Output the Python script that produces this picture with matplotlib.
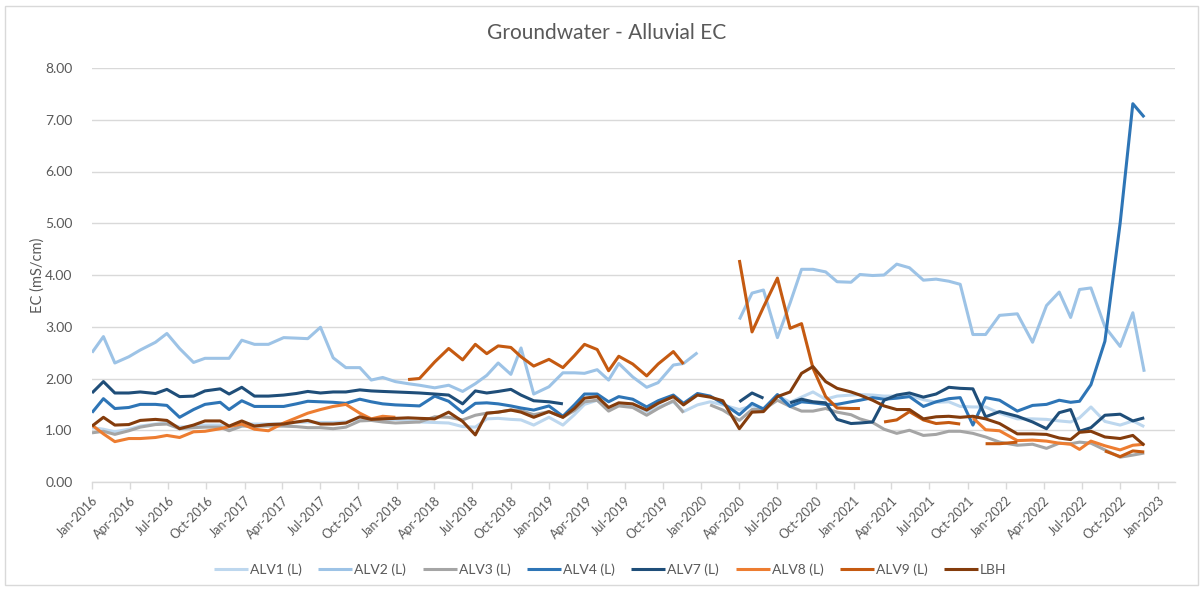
import numpy as np
import pandas as pd
import matplotlib
matplotlib.use("Agg")
import matplotlib.pyplot as plt
import matplotlib.dates as mdates
from matplotlib.patches import Rectangle

plt.rcParams['font.family'] = ['Lato', 'DejaVu Sans']
nan = np.nan

# sampling times, in months since Jan-2016
sample_month = [0.0, 0.9, 1.8, 2.9, 3.8, 5.0, 5.9, 6.9, 8.0, 8.9,
                10.1, 10.8, 11.8, 12.8, 13.9, 15.1, 16.1, 17.0, 18.0, 19.0,
                20.0, 21.1, 22.0, 22.9, 23.9, 24.9, 25.8, 27.0, 28.1, 29.2,
                30.2, 31.1, 32.0, 33.0, 33.8, 34.8, 36.0, 37.1, 38.0, 38.8,
                39.8, 40.7, 41.5, 42.6, 43.7, 44.6, 45.8, 46.6, 47.7, 48.7,
                49.7, 51.0, 52.0, 52.9, 54.0, 55.0, 55.9, 56.8, 57.8, 58.7,
                59.8, 60.5, 61.5, 62.4, 63.4, 64.4, 65.5, 66.5, 67.5, 68.4,
                69.4, 70.4, 71.5, 72.9, 74.1, 75.2, 76.2, 77.1, 77.8, 78.7,
                79.8, 81.0, 82.0, 82.9]

alv1 = [1.05, 1.02, 0.97, 1.02, 1.08, 1.12, 1.14, 1.06, 1.08, 1.10,
        1.10, 1.04, 1.12, 1.12, 1.12, 1.13, 1.15, 1.16, 1.15, 1.15,
        1.16, 1.22, 1.22, 1.20, 1.21, 1.19, 1.16, 1.15, 1.14, 1.07,
        1.06, 1.22, 1.23, 1.21, 1.20, 1.10, 1.25, 1.10, 1.30, 1.50,
        1.58, 1.42, 1.50, 1.48, 1.36, 1.45, 1.55, 1.36, 1.49, 1.55,
        1.49, 1.40, 1.47, 1.42, 1.67, 1.54, 1.64, 1.74, 1.60, 1.66,
        1.68, 1.69, 1.68, 1.66, 1.66, 1.68, 1.59, 1.54, 1.55, 1.46,
        1.45, 1.45, 1.33, 1.22, 1.22, 1.21, 1.18, 1.16, 1.24, 1.45,
        1.17, 1.10, 1.18, 1.07]

alv2 = [2.50, 2.81, 2.30, 2.42, 2.55, 2.70, 2.87, 2.58, 2.31, 2.39,
        2.39, 2.39, 2.74, 2.66, 2.66, 2.79, 2.78, 2.77, 2.99, 2.40,
        2.21, 2.21, 1.97, 2.02, 1.94, 1.90, 1.87, 1.82, 1.87, 1.75,
        1.90, 2.06, 2.30, 2.08, 2.59, 1.70, 1.84, 2.11, 2.11, 2.10,
        2.17, 1.97, 2.29, 2.03, 1.83, 1.92, 2.26, 2.29, 2.50, nan,
        nan, 3.14, 3.65, 3.71, 2.79, 3.46, 4.11, 4.11, 4.06, 3.87,
        3.86, 4.01, 3.99, 4.00, 4.21, 4.14, 3.90, 3.92, 3.88, 3.82,
        2.85, 2.85, 3.22, 3.25, 2.70, 3.41, 3.67, 3.18, 3.72, 3.75,
        3.00, 2.62, 3.27, 2.13]

alv3 = [0.95, 0.98, 0.92, 0.99, 1.06, 1.11, 1.12, 1.03, 1.05, 1.06,
        1.06, 0.99, 1.08, 1.08, 1.08, 1.08, 1.07, 1.05, 1.05, 1.03,
        1.06, 1.18, 1.19, 1.16, 1.14, 1.15, 1.16, 1.26, 1.25, 1.20,
        1.29, 1.33, 1.35, 1.39, 1.38, 1.30, 1.36, 1.25, 1.38, 1.55,
        1.58, 1.37, 1.47, 1.44, 1.29, 1.42, 1.57, 1.34, nan, 1.49,
        1.39, 1.19, 1.40, 1.40, 1.58, 1.46, 1.37, 1.37, 1.42, 1.35,
        1.30, 1.22, 1.15, 1.02, 0.94, 1.00, 0.90, 0.92, 0.98, 0.98,
        0.94, 0.87, 0.77, 0.71, 0.73, 0.65, 0.75, 0.74, 0.77, 0.75,
        0.62, 0.48, 0.52, 0.56]

alv4 = [1.34, 1.61, 1.42, 1.44, 1.50, 1.50, 1.48, 1.25, 1.40, 1.50,
        1.54, 1.40, 1.57, 1.46, 1.46, 1.46, 1.51, 1.56, 1.55, 1.54,
        1.52, 1.60, 1.55, 1.51, 1.49, 1.48, 1.47, 1.66, 1.56, 1.34,
        1.52, 1.53, 1.51, 1.47, 1.43, 1.39, 1.47, 1.27, 1.49, 1.70,
        1.70, 1.55, 1.65, 1.60, 1.45, 1.57, 1.68, 1.52, 1.71, 1.66,
        1.52, 1.30, 1.52, 1.41, 1.69, 1.46, 1.55, 1.53, 1.50, 1.50,
        1.55, 1.58, 1.63, 1.60, 1.62, 1.65, 1.46, 1.55, 1.61, 1.63,
        1.10, 1.63, 1.58, 1.37, 1.48, 1.50, 1.58, 1.54, 1.56, 1.88,
        2.72, 5.00, 7.31, 7.05]

alv7 = [1.72, 1.94, 1.72, 1.72, 1.74, 1.71, 1.79, 1.65, 1.66, 1.76,
        1.80, 1.70, 1.83, 1.66, 1.66, 1.68, 1.71, 1.75, 1.72, 1.74,
        1.74, 1.78, 1.76, 1.75, 1.74, 1.73, 1.72, 1.70, 1.68, 1.51,
        1.76, 1.72, 1.75, 1.79, 1.68, 1.57, 1.55, 1.51, nan, nan,
        nan, nan, nan, nan, nan, nan, nan, nan, nan, nan,
        nan, 1.55, 1.72, 1.62, nan, 1.53, 1.60, 1.55, 1.53, 1.21,
        1.13, 1.14, 1.16, 1.58, 1.68, 1.72, 1.64, 1.70, 1.83, 1.81,
        1.80, 1.26, 1.36, 1.27, 1.16, 1.03, 1.34, 1.40, 0.98, 1.05,
        1.29, 1.31, 1.18, 1.24]

alv8 = [1.10, 0.93, 0.78, 0.84, 0.84, 0.86, 0.90, 0.86, 0.97, 0.98,
        1.03, 1.07, 1.12, 1.02, 0.99, 1.14, 1.24, 1.33, 1.40, 1.46,
        1.50, 1.33, 1.22, 1.27, 1.25, nan, nan, nan, nan, nan,
        nan, nan, nan, nan, nan, nan, nan, nan, nan, nan,
        nan, nan, nan, nan, nan, nan, nan, nan, nan, nan,
        nan, nan, nan, nan, nan, nan, nan, nan, nan, nan,
        nan, nan, nan, nan, nan, nan, nan, nan, nan, nan,
        1.24, 1.01, 0.99, 0.80, 0.81, 0.79, 0.75, 0.73, 0.63, 0.79,
        0.70, 0.62, 0.71, 0.73]

alv9 = [nan, nan, nan, nan, nan, nan, nan, nan, nan, nan,
        nan, nan, nan, nan, nan, nan, nan, nan, nan, nan,
        nan, nan, nan, nan, nan, 1.98, 2.00, 2.32, 2.58, 2.36,
        2.66, 2.48, 2.63, 2.60, 2.42, 2.24, 2.37, 2.21, 2.44, 2.66,
        2.56, 2.15, 2.43, 2.28, 2.05, 2.28, 2.52, 2.28, nan, nan,
        nan, 4.29, 2.90, 3.38, 3.94, 2.97, 3.06, 2.20, 1.65, 1.43,
        1.42, 1.42, nan, 1.16, 1.20, 1.36, 1.20, 1.13, 1.15, 1.12,
        nan, 0.74, 0.74, 0.77, nan, nan, nan, nan, nan, nan,
        0.60, 0.49, 0.60, 0.58]

lbh = [1.08, 1.25, 1.10, 1.11, 1.19, 1.21, 1.19, 1.03, 1.10, 1.18,
       1.18, 1.08, 1.18, 1.08, 1.11, 1.12, 1.16, 1.19, 1.12, 1.12,
       1.14, 1.26, 1.21, 1.22, 1.23, 1.24, 1.23, 1.22, 1.35, 1.17,
       0.91, 1.33, 1.35, 1.39, 1.35, 1.25, 1.36, 1.25, 1.42, 1.62,
       1.65, 1.44, 1.53, 1.51, 1.39, 1.52, 1.65, 1.49, 1.68, 1.64,
       1.57, 1.03, 1.35, 1.36, 1.65, 1.74, 2.10, 2.23, 1.94, 1.81,
       1.74, 1.68, 1.58, 1.47, 1.40, 1.40, 1.22, 1.26, 1.27, 1.25,
       1.27, 1.22, 1.13, 0.93, 0.93, 0.92, 0.85, 0.82, 0.96, 0.98,
       0.87, 0.84, 0.90, 0.71]

series_names = ["ALV1 (L)", "ALV2 (L)", "ALV3 (L)", "ALV4 (L)",
                "ALV7 (L)", "ALV8 (L)", "ALV9 (L)", "LBH"]
series_values = [alv1, alv2, alv3, alv4, alv7, alv8, alv9, lbh]
series_colors = ["#BDD7EE", "#9DC3E6", "#A5A5A5", "#2E75B6",
                 "#1F4E79", "#ED7D31", "#C55A11", "#843C0C"]

dates = pd.Timestamp("2016-01-01") + pd.to_timedelta(
    np.array(sample_month) * 30.4375, unit="D")

W, H = 1203, 590
fig = plt.figure(figsize=(W / 100, H / 100), dpi=100)
fig.patches.append(Rectangle((5 / W, 5 / H), 1 - 10 / W, 1 - 11 / H,
                             transform=fig.transFigure, fill=False,
                             edgecolor="#D9D9D9", linewidth=1.0))

ax = fig.add_axes([92 / W, 1 - 482 / H, (1175 - 92) / W, (482 - 68) / H])
handles = []
for i, (name, vals, col) in enumerate(zip(series_names, series_values, series_colors)):
    h, = ax.plot(dates, np.array(vals, dtype=float), color=col, lw=2.2,
                 solid_joinstyle="round", solid_capstyle="butt",
                 label=name, zorder=3 + i)
    handles.append(h)

ax.set_ylim(0, 8)
ax.set_yticks(np.arange(0, 9, 1))
ax.yaxis.set_major_formatter(matplotlib.ticker.FormatStrFormatter("%.2f"))
ax.set_xlim(pd.Timestamp("2016-01-01"), pd.Timestamp("2023-02-10"))
ax.xaxis.set_major_locator(mdates.MonthLocator(bymonth=(1, 4, 7, 10)))
ax.xaxis.set_major_formatter(mdates.DateFormatter("%b-%Y"))

ax.grid(axis="y", color="#D9D9D9", linewidth=1.0, zorder=0)
ax.set_axisbelow(True)
for s in ("top", "right", "left"):
    ax.spines[s].set_visible(False)
ax.spines["bottom"].set_color("#D9D9D9")
ax.spines["bottom"].set_linewidth(1.0)
ax.tick_params(axis="y", length=0, pad=14, labelsize=10, labelcolor="#595959")
ax.tick_params(axis="x", length=5, width=1.0, color="#D9D9D9", pad=4,
               labelsize=9, labelcolor="#595959")
plt.setp(ax.get_xticklabels(), rotation=45, ha="right", va="top",
         rotation_mode="anchor")

fig.text(38 / W, 1 - 275 / H, "EC (mS/cm)", rotation=90, ha="center",
         va="center", fontsize=10.5, color="#595959")
fig.text(607 / W, 1 - 33 / H, "Groundwater - Alluvial EC", ha="center",
         va="center", fontsize=15, color="#595959")

fig.legend(handles, series_names, loc="center left",
           bbox_to_anchor=(214 / W, 1 - 570 / H), ncol=8, frameon=False,
           borderpad=0, borderaxespad=0,
           fontsize=10, handlelength=2.45, handletextpad=0.15,
           columnspacing=1.18, labelcolor="#595959")

fig.savefig("out.png", dpi=100)
